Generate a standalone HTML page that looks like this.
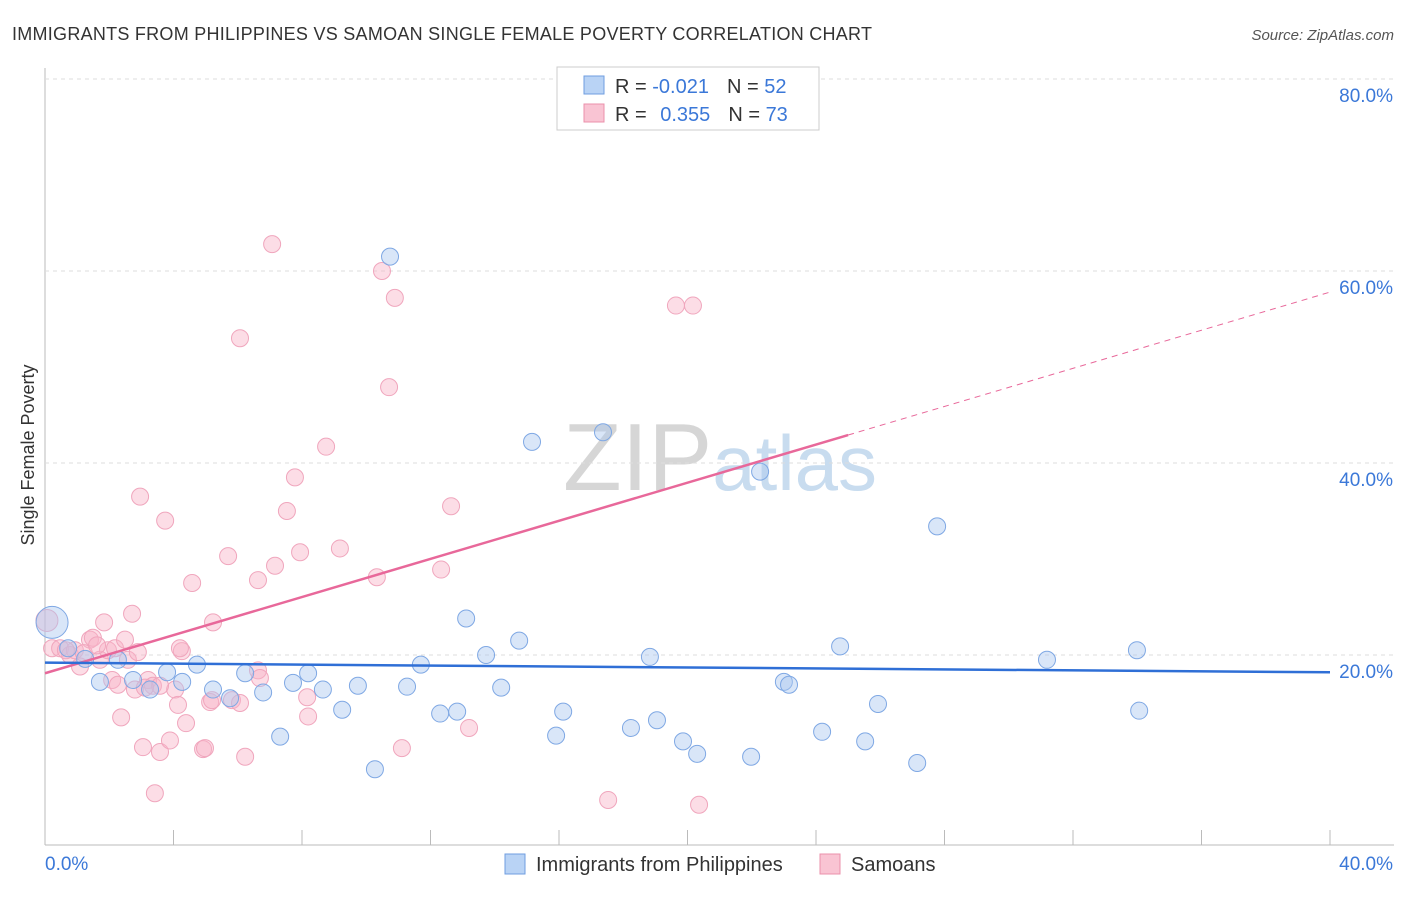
<!DOCTYPE html>
<html><head><meta charset="utf-8"><style>
body{margin:0;background:#fff;font-family:"Liberation Sans",sans-serif}
svg text{font-family:"Liberation Sans",sans-serif}
</style></head><body>
<svg id="c" width="1406" height="892">
<text x="12" y="40" font-size="18" fill="#333" textLength="860">IMMIGRANTS FROM PHILIPPINES VS SAMOAN SINGLE FEMALE POVERTY CORRELATION CHART</text>
<text x="1394" y="40" font-size="15" fill="#555" text-anchor="end" font-style="italic">Source: ZipAtlas.com</text>
<text x="720" y="490" font-size="96" fill="#ddd" text-anchor="middle" font-family="Liberation Serif"><tspan fill="#d6d6d6">ZIP</tspan><tspan fill="#c8dcef" font-family="Liberation Sans" font-size="78">atlas</tspan></text>
<g id="grid"></g><g id="marks"></g>
<text transform="translate(34,455) rotate(-90)" font-size="18" fill="#333" text-anchor="middle">Single Female Poverty</text>
<g>
<rect x="557" y="67" width="262" height="63" fill="#fff" stroke="#ccc"/>
<rect x="584" y="76" width="20" height="18" fill="#b9d3f5" stroke="#6f9ee0"/>
<rect x="584" y="104" width="20" height="18" fill="#f9c4d3" stroke="#eb90ab"/>
<text x="615" y="93" font-size="20" fill="#333">R = <tspan fill="#3b78d8">-0.021</tspan><tspan dx="18">N = </tspan><tspan fill="#3b78d8">52</tspan></text>
<text x="615" y="121" font-size="20" fill="#333">R = <tspan fill="#3b78d8" dx="8">0.355</tspan><tspan dx="18">N = </tspan><tspan fill="#3b78d8">73</tspan></text>
</g>
<g>
<rect x="505" y="854" width="20" height="20" fill="#b9d3f5" stroke="#6f9ee0"/>
<text x="536" y="871" font-size="20" fill="#333">Immigrants from Philippines</text>
<rect x="820" y="854" width="20" height="20" fill="#f9c4d3" stroke="#eb90ab"/>
<text x="851" y="871" font-size="20" fill="#333">Samoans</text>
</g>
</svg>
<script>
const xTicks=[0,40];
const yTicks=[20,40,60,80];
const blueX=[0.22,0.72,1.71,2.27,2.74,3.27,3.80,4.27,4.73,5.23,5.76,6.23,6.79,7.32,7.72,8.19,8.65,9.25,9.74,10.27,10.74,11.27,11.70,12.30,12.83,13.11,13.73,14.20,14.76,15.16,15.91,16.13,17.37,18.24,18.83,19.05,19.86,20.30,21.98,22.26,23.00,23.16,24.19,24.75,25.53,25.93,27.15,27.77,31.19,33.99,34.06,1.25];
const blueY=[23.4,20.7,17.2,19.5,17.4,16.4,18.2,17.2,19.0,16.4,15.5,18.1,16.1,11.5,17.1,18.1,16.4,14.3,16.8,8.1,61.5,16.7,19.0,13.9,14.1,23.8,20.0,16.6,21.5,42.2,11.6,14.1,43.2,12.4,19.8,13.2,11.0,9.7,9.4,39.1,17.2,16.9,12.0,20.9,11.0,14.9,8.75,33.4,19.5,20.5,14.2,19.6];
const pinkPX=[47,52,60,70,80,75,90,93,100,104,108,112,115,118,121,125,128,132,140,143,148,153,155,160,165,170,175,178,182,186,192,203,205,210,213,228,232,240,245,258,258,272,275,287,295,300,307,308,326,340,377,382,389,395,402,441,451,469,608,676,693,699,66,84,97,135,160,138,145,180,212,240,260];
const pinkPY=[620,648,648,655,667,650,640,638,660,622,650,680,648,685,717,640,660,614,497,747,680,686,793,752,521,740,690,705,651,723,583,749,748,702,622,556,700,338,757,670,580,244,566,511,477,552,697,716,447,548,577,271,387,298,748,570,506,728,800,306,306,805,650,653,645,690,686,652,688,648,700,703,678];
const pinkX=pinkPX.map(p=>+((p-45)*40/1285).toFixed(2));
const pinkY=pinkPY.map(p=>+((847-p)*20/192).toFixed(1));
const blueLine=[19.2,18.2];
const pinkLine=[18.1,57.8];
const x=v=>45+v/40*1285, y=v=>847-v/20*192;
const NS="http://www.w3.org/2000/svg";
function mk(t,a,p){const e=document.createElementNS(NS,t);for(const k in a)e.setAttribute(k,a[k]);p.appendChild(e);return e;}
const g=document.getElementById('grid'),m=document.getElementById('marks');
let ax=mk('line',{x1:45,y1:68,x2:45,y2:845,stroke:'#bbb'},g);

let bx=mk('line',{x1:45,y1:845,x2:1394,y2:845,stroke:'#bbb'},g);

for(let i=1;i<=10;i++){let t=mk('line',{x1:x(i*4),y1:830,x2:x(i*4),y2:845,stroke:'#bbb'},g);}
yTicks.forEach(v=>{let l=mk('line',{x1:45,y1:y(v),x2:1394,y2:y(v),stroke:'#ddd','stroke-dasharray':'4,4'},g);

let t=mk('text',{x:1393,y:y(v)+23,'font-size':19,fill:'#3b78d8','text-anchor':'end'},g);t.textContent=v.toFixed(1)+'%';
});
xTicks.forEach((v,i)=>{let t=mk('text',{x:i?1393:45,y:870,'font-size':19,fill:'#3b78d8','text-anchor':i?'end':'start'},g);t.textContent=v.toFixed(1)+'%';
});
pinkX.forEach((v,i)=>{let c=mk('circle',{cx:x(v),cy:y(pinkY[i]),r:i==0?11:8.5,fill:'rgba(248,180,200,0.45)',stroke:'#f0a6bd','stroke-width':1},m);
});
blueX.forEach((v,i)=>{let c=mk('circle',{cx:x(v),cy:y(blueY[i]),r:i==0?16:8.5,fill:'rgba(170,200,240,0.45)',stroke:'#7fa8e4','stroke-width':1},m);
});
const py=v=>pinkLine[0]+(pinkLine[1]-pinkLine[0])*v/40;
let p1=mk('line',{x1:x(0),y1:y(py(0)),x2:x(25),y2:y(py(25)),stroke:'#e8689a','stroke-width':2.5},m);

let p2=mk('line',{x1:x(25),y1:y(py(25)),x2:x(40),y2:y(py(40)),stroke:'#e8689a','stroke-width':1,'stroke-dasharray':'6,5'},m);

let b1=mk('line',{x1:x(0),y1:y(blueLine[0]),x2:x(40),y2:y(blueLine[1]),stroke:'#2f6fd6','stroke-width':2.5},m);

</script>
</body></html>
